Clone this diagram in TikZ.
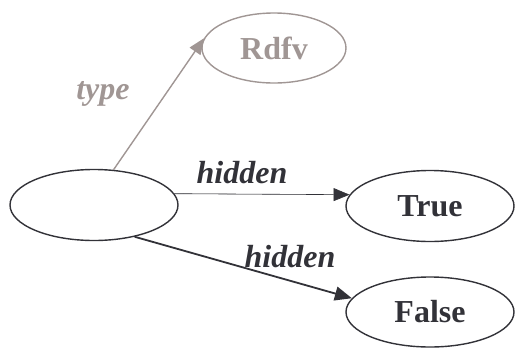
\documentclass[tikz,border=0pt]{standalone}
\usepackage{fontspec}
\setmainfont{Liberation Serif}
\usetikzlibrary{shapes.geometric,arrows.meta}
\definecolor{rdfgray}{RGB}{160,150,148}
\definecolor{inkdark}{RGB}{50,50,56}
\tikzset{
  res/.style={ellipse, draw=inkdark, line width=1.4pt, minimum width=168pt, minimum height=71pt, inner sep=0pt,
    text=inkdark, font=\fontsize{32}{38}\selectfont\bfseries},
  lbl/.style={anchor=base, inner sep=0pt, font=\fontsize{32}{38}\selectfont\bfseries\itshape},
  tip/.style={-{Triangle[length=16pt,width=13pt]}}
}
\begin{document}
\begin{tikzpicture}[x=1pt,y=-1pt]
\useasboundingbox (0,0) rectangle (517,349);
\node[res] (subj) at (94,205) {};
\node[res, draw=rdfgray, text=rdfgray, minimum width=144pt, minimum height=70pt] (rdfv) at (274,48) {Rdfv};
\node[res] (true) at (430,206) {True};
\node[res, minimum height=70pt] (false) at (430,312) {False};
\draw[tip, draw=rdfgray, fill=rdfgray, line width=1.4pt] (subj.61) -- (rdfv.172);
\draw[tip, draw=inkdark, fill=inkdark, line width=0.6pt] (subj.8) -- (true.172);
\draw[draw=inkdark, fill=inkdark, line width=1.8pt, -{Triangle[length=17pt,width=14pt]}] (subj.-38) -- (false.170);
\node[lbl, text=rdfgray] (ltype) at (103,99) {type};
\node[lbl, text=inkdark] (lh1) at (242,183) {hidden};
\node[lbl, text=inkdark] (lh2) at (290,267) {hidden};
\end{tikzpicture}
\end{document}
